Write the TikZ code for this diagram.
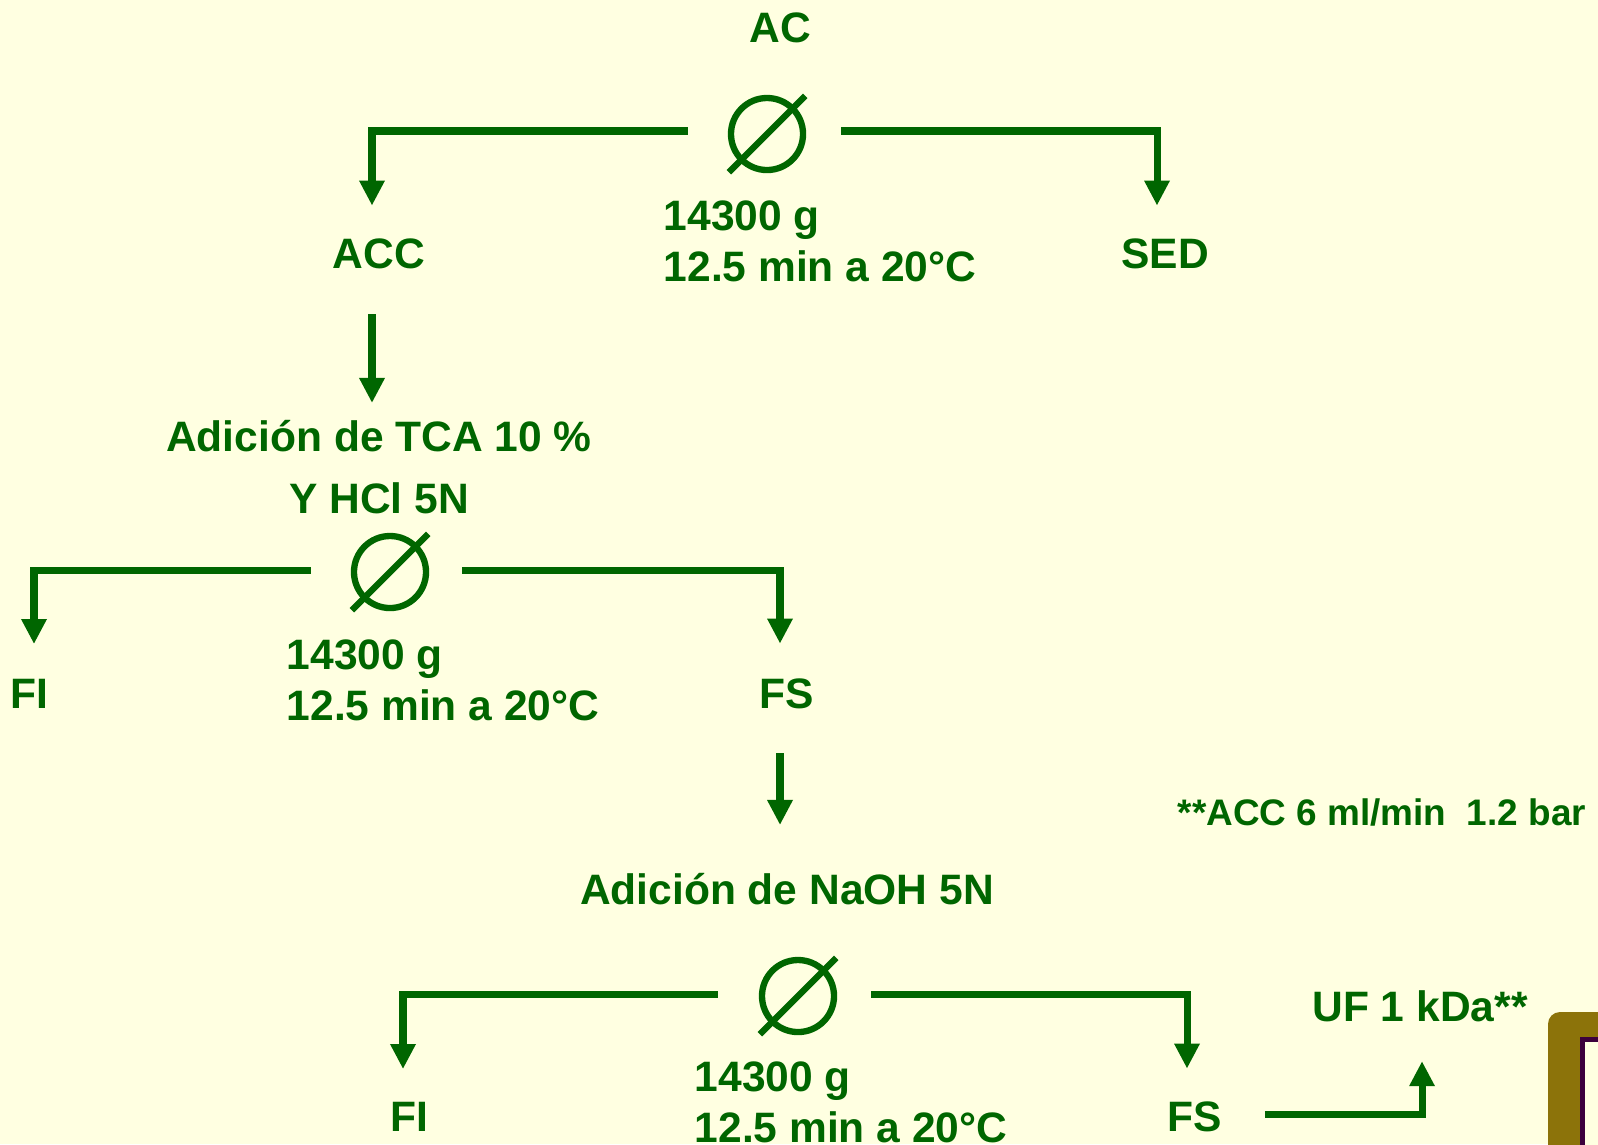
\documentclass[tikz,border=0pt]{standalone}
\usepackage{fontspec}
\setmainfont{Liberation Sans}
\usepackage{tikz}
\usetikzlibrary{arrows.meta, positioning}
\definecolor{leafgreen}{RGB}{0, 102, 0}
\definecolor{paleyellow}{RGB}{255, 255, 225}
\definecolor{framebrown}{RGB}{140, 115, 10}
\definecolor{framepurple}{RGB}{60, 0, 60}

\begin{document}
\begin{tikzpicture}[x=0.01cm, y=-0.01cm,
  flow/.style={line width=2pt, draw=leafgreen, -{Triangle[length=0.25cm, width=0.24cm]}},
  lbl/.style={text=leafgreen, font=\fontsize{12.1}{14.5}\selectfont\bfseries, inner sep=0pt, anchor=base},
  sep/.style={circle, draw=leafgreen, line width=1.8pt, minimum size=0.72cm, inner sep=0pt}]
\useasboundingbox (0,0) rectangle (1598,1144);
\fill[paleyellow] (0,0) rectangle (1598,1144);
\begin{scope}
\clip (0,0) rectangle (1598,1144);
\fill[framebrown, rounded corners=0.12cm] (1548,1012) rectangle (1700,1250);
\filldraw[fill=paleyellow, draw=framepurple, line width=1.4pt] (1582.5,1039.5) rectangle (1700,1250);
\end{scope}

% first centrifugation
\node[lbl] (ac) at (780,42) {AC};
\node[sep] (c1) at (767,134) {};
\draw[leafgreen, line width=1.8pt] ([shift={(-135:0.54cm)}]c1.center) -- ([shift={(45:0.54cm)}]c1.center);
\node[lbl, anchor=base west, align=left] (info1) at (663,281) {14300 g\\12.5 min a 20°C};
\node[lbl] (acc) at (379,268) {ACC};
\node[lbl] (sed) at (1165,268) {SED};
\draw[flow] ([xshift=-0.79cm, yshift=0.03cm]c1.center) -| ([xshift=-0.07cm, yshift=0.32cm]acc.north);
\draw[flow] ([xshift=0.74cm, yshift=0.03cm]c1.center) -| ([xshift=-0.08cm, yshift=0.32cm]sed.north);

% second centrifugation
\node[lbl, align=center, font=\fontsize{12.1}{17.6}\selectfont\bfseries] (tca) at (379,513) {Adición de TCA 10 \%\\Y HCl 5N};
\draw[flow] ([xshift=-0.07cm, yshift=-0.45cm]acc.south) -- ([xshift=-0.07cm, yshift=1.10cm]tca.base);
\node[sep] (c2) at (390,572) {};
\draw[leafgreen, line width=1.8pt] ([shift={(-135:0.54cm)}]c2.center) -- ([shift={(45:0.54cm)}]c2.center);
\node[lbl, anchor=base west, align=left] (info2) at (286,720) {14300 g\\12.5 min a 20°C};
\node[lbl] (fi1) at (29,708) {FI};
\node[lbl] (fs1) at (787,708) {FS};
\draw[flow] ([xshift=-0.79cm, yshift=0.02cm]c2.center) -| ([xshift=0.05cm, yshift=0.34cm]fi1.north);
\draw[flow] ([xshift=0.72cm, yshift=0.02cm]c2.center) -| ([xshift=-0.07cm, yshift=0.34cm]fs1.north);

% third centrifugation
\node[lbl] (naoh) at (787,904) {Adición de NaOH 5N};
\draw[flow] ([xshift=-0.07cm, yshift=-0.44cm]fs1.south) -- ([xshift=-0.07cm, yshift=0.79cm]naoh.base);
\node[lbl, anchor=base west, font=\fontsize{10.5}{12.6}\selectfont\bfseries] (note) at (1177,825) {**ACC 6 ml/min\ \ 1.2 bar};
\node[sep] (c3) at (798,996) {};
\draw[leafgreen, line width=1.8pt] ([shift={(-135:0.54cm)}]c3.center) -- ([shift={(45:0.54cm)}]c3.center);
\node[lbl, anchor=base west, align=left] (info3) at (694,1142) {14300 g\\12.5 min a 20°C};
\node[lbl] (fi2) at (409,1131) {FI};
\node[lbl] (fs2) at (1195,1131) {FS};
\draw[flow] ([xshift=-0.80cm, yshift=0.02cm]c3.center) -| ([xshift=-0.06cm, yshift=0.32cm]fi2.north);
\draw[flow] ([xshift=0.73cm, yshift=0.02cm]c3.center) -| ([xshift=-0.08cm, yshift=0.32cm]fs2.north);
\node[lbl] (uf) at (1420,1021) {UF 1 kDa**};
\draw[flow] ([xshift=0.42cm, yshift=0.17cm]fs2.base east) -| ([xshift=0.02cm, yshift=-0.39cm]uf.south);
\end{tikzpicture}
\end{document}
